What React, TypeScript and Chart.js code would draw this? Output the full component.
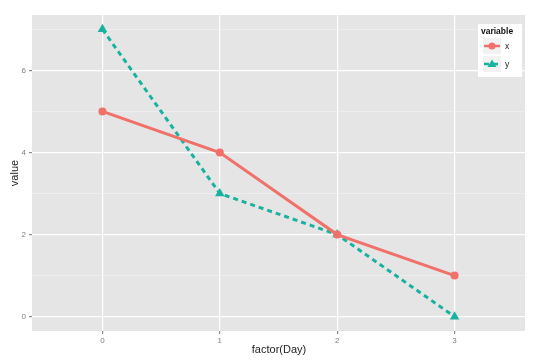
import React, { useEffect, useRef } from "react";
import { Chart, registerables } from "chart.js";

Chart.register(...registerables);

const days = [0, 1, 2, 3];
const xValues = [5, 4, 2, 1];
const yValues = [7, 3, 2, 0];
const seriesNames = ["x", "y"];
const xTickValues = [0, 1, 2, 3];
const yTickValues = [0, 1, 2, 3, 4, 5, 6, 7];
const legendTitle = "variable";
const xTitle = "factor(Day)";
const yTitle = "value";

const RED = "#F0716A";
const TEAL = "#17B3A0";
const FONT = "'Liberation Sans', Arial, sans-serif";

const ggPlugin = {
  id: "ggstyle",
  beforeDraw(chart: any) {
    const { ctx, chartArea: a } = chart;
    ctx.save();
    ctx.fillStyle = "#E5E5E5";
    ctx.fillRect(a.left, a.top, a.right - a.left, a.bottom - a.top);
    ctx.restore();
  },
  afterDraw(chart: any) {
    const { ctx, chartArea: a } = chart;
    ctx.save();
    // axis titles
    ctx.fillStyle = "#222";
    ctx.font = `11px ${FONT}`;
    ctx.textAlign = "center";
    ctx.textBaseline = "middle";
    ctx.fillText(xTitle, (a.left + a.right) / 2 + 0.5, 350);
    ctx.translate(15, (a.top + a.bottom) / 2);
    ctx.rotate(-Math.PI / 2);
    ctx.fillText(yTitle, 0, 0);
    ctx.restore();

    // legend
    ctx.save();
    const lx = 478, ly = 24, lw = 44, lh = 53;
    ctx.fillStyle = "#FFFFFF";
    ctx.fillRect(lx, ly, lw, lh);
    ctx.fillStyle = "#111";
    ctx.font = `bold 8.5px ${FONT}`;
    ctx.textAlign = "left";
    ctx.textBaseline = "middle";
    ctx.fillText(legendTitle, lx + 3, ly + 7.5);
    const ds = chart.data.datasets;
    ds.forEach((d: any, i: number) => {
      const cy = ly + 22 + i * 18;
      const x0 = lx + 6, x1 = lx + 22;
      ctx.fillStyle = "#F2F2F2";
      ctx.fillRect(x0 - 1, cy - 8, 18, 16);
      ctx.strokeStyle = d.borderColor;
      ctx.lineWidth = 2.5;
      ctx.setLineDash(d.borderDash || []);
      ctx.beginPath();
      ctx.moveTo(x0, cy);
      ctx.lineTo(x1, cy);
      ctx.stroke();
      ctx.setLineDash([]);
      ctx.fillStyle = d.borderColor;
      const cx = (x0 + x1) / 2;
      if (d.pointStyle === "triangle") {
        ctx.beginPath();
        ctx.moveTo(cx, cy - 4.5);
        ctx.lineTo(cx + 4.5, cy + 3);
        ctx.lineTo(cx - 4.5, cy + 3);
        ctx.closePath();
        ctx.fill();
      } else {
        ctx.beginPath();
        ctx.arc(cx, cy, 3.5, 0, Math.PI * 2);
        ctx.fill();
      }
      ctx.fillStyle = "#222";
      ctx.font = `8.5px ${FONT}`;
      ctx.fillText(d.label, x1 + 5, cy + 0.5);
    });
    ctx.restore();
  },
};

export default function App() {
  const ref = useRef<HTMLCanvasElement>(null);

  useEffect(() => {
    if (!ref.current) return;
    const chart = new Chart(ref.current, {
      type: "line",
      data: {
        datasets: [
          {
            label: seriesNames[0],
            data: days.map((d, i) => ({ x: d, y: xValues[i] })),
            borderColor: RED,
            backgroundColor: RED,
            borderWidth: 3,
            pointStyle: "circle",
            pointRadius: 4,
            pointBorderWidth: 0,
            tension: 0,
          },
          {
            label: seriesNames[1],
            data: days.map((d, i) => ({ x: d, y: yValues[i] })),
            borderColor: TEAL,
            backgroundColor: TEAL,
            borderWidth: 3,
            borderDash: [5, 4],
            pointStyle: "triangle",
            pointRadius: 5.5,
            pointBorderWidth: 0,
            tension: 0,
          },
        ],
      },
      options: {
        responsive: false,
        animation: false,
        layout: { padding: { top: 15, right: 15, left: 0, bottom: 0 } },
        plugins: { legend: { display: false }, tooltip: { enabled: false } },
        scales: {
          x: {
            type: "linear",
            min: -0.6,
            max: 3.6,
            afterBuildTicks: (s: any) => {
              s.ticks = xTickValues.map((v) => ({ value: v }));
            },
            afterFit: (s: any) => {
              s.height = 33;
            },
            border: { display: false },
            grid: {
              color: "#FFFFFF",
              lineWidth: 1.2,
              tickColor: "#8A8A8A",
              tickLength: 3,
              drawTicks: true,
            },
            ticks: {
              color: "#7F7F7F",
              font: { family: FONT, size: 8 },
              padding: 2,
              maxRotation: 0,
              callback: (v: any) => String(v),
            },
          },
          y: {
            type: "linear",
            min: -0.35,
            max: 7.35,
            afterBuildTicks: (s: any) => {
              s.ticks = yTickValues.map((v) => ({ value: v }));
            },
            afterFit: (s: any) => {
              s.width = 32;
            },
            border: { display: false },
            grid: {
              color: (c: any) => (c.tick && c.tick.value % 2 === 0 ? "#FFFFFF" : "#F2F2F2"),
              lineWidth: (c: any) => (c.tick && c.tick.value % 2 === 0 ? 1.2 : 0.6),
              tickColor: (c: any) =>
                c.tick && c.tick.value % 2 === 0 ? "#8A8A8A" : "rgba(0,0,0,0)",
              tickLength: 3,
              drawTicks: true,
            },
            ticks: {
              color: "#7F7F7F",
              font: { family: FONT, size: 8 },
              padding: 3,
              callback: (v: any) => (Number(v) % 2 === 0 ? String(v) : ""),
            },
          },
        },
      },
      plugins: [ggPlugin],
    } as any);
    return () => chart.destroy();
  }, []);

  return (
    <div style={{ position: "absolute", left: 0, top: 0, width: 540, height: 364, background: "#fff" }}>
      <canvas ref={ref} width={540} height={364} style={{ display: "block" }} />
    </div>
  );
}
